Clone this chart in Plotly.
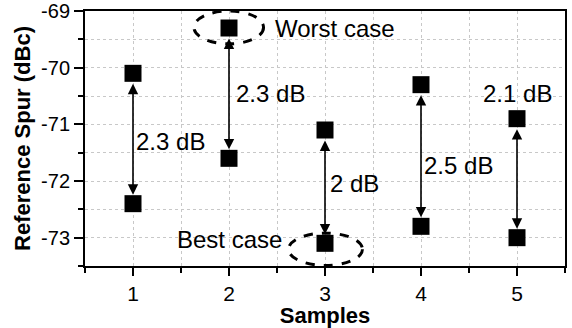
import plotly.graph_objects as go

# Reference spur measured on five samples: highest and lowest reading per sample
samples = [1, 2, 3, 4, 5]
spur_max = [-70.1, -69.3, -71.1, -70.3, -70.9]
spur_min = [-72.4, -71.6, -73.1, -72.8, -73.0]
spread_labels = ["2.3 dB", "2.3 dB", "2 dB", "2.5 dB", "2.1 dB"]
# label anchor positions (data coords) for each spread label
label_x = [1.39, 2.43, 3.31, 4.39, 5.01]
label_y = [-71.31, -70.45, -72.05, -71.73, -70.46]

y_ticks = [-73, -72, -71, -70, -69]
y_ticktext = ["-73", "-72", "-71", "-70", "-69"]

FONT = "Liberation Sans, Arial, sans-serif"
ANN_SIZE = 24

fig = go.Figure()

fig.add_trace(go.Scatter(
    x=samples + samples,
    y=spur_max + spur_min,
    mode="markers",
    marker=dict(symbol="square", size=17, color="black"),
    showlegend=False,
    hoverinfo="x+y",
))

annotations = []
for s, hi, lo, txt, lx, ly in zip(samples, spur_max, spur_min, spread_labels, label_x, label_y):
    # double-headed arrow spanning the spread
    annotations.append(dict(
        x=s, y=lo, ax=s, ay=hi, xref="x", yref="y", axref="x", ayref="y",
        text="", showarrow=True, arrowhead=2, startarrowhead=2,
        arrowside="end+start", arrowsize=1.3, startarrowsize=1.3,
        arrowwidth=1.6, arrowcolor="black", standoff=9, startstandoff=9,
    ))
    annotations.append(dict(
        x=lx, y=ly, xref="x", yref="y", text=txt, showarrow=False,
        font=dict(family=FONT, size=ANN_SIZE, color="black"),
    ))

annotations.append(dict(x=2.46, y=-69.3, xref="x", yref="y", text="Worst case",
                        showarrow=False, xanchor="left",
                        font=dict(family=FONT, size=ANN_SIZE, color="black")))
annotations.append(dict(x=2.0, y=-73.04, xref="x", yref="y", text="Best case",
                        showarrow=False,
                        font=dict(family=FONT, size=ANN_SIZE, color="black")))

shapes = [
    dict(type="circle", xref="x", yref="y", x0=1.635, x1=2.36, y0=-69.58, y1=-69.0,
         line=dict(color="black", width=3, dash="dash")),
    dict(type="circle", xref="x", yref="y", x0=2.62, x1=3.39, y0=-73.49, y1=-72.92,
         line=dict(color="black", width=3, dash="dash")),
]

grid = dict(showgrid=True, gridcolor="#c8c8c8", griddash="dot", gridwidth=1)

fig.update_layout(
    width=572, height=328,
    margin=dict(l=85, r=7, t=11, b=62),
    plot_bgcolor="white", paper_bgcolor="white",
    font=dict(family=FONT, color="black"),
    annotations=annotations,
    shapes=shapes,
    xaxis=dict(
        range=[0.5, 5.5], tickvals=samples, ticks="outside", ticklen=8, tickwidth=2,
        tickcolor="black", showline=True, linecolor="black", linewidth=2, mirror=True,
        zeroline=False, tickfont=dict(family=FONT, size=21), automargin=False,
        title=dict(text="<b>Samples</b>", font=dict(family=FONT, size=22), standoff=0),
        minor=dict(dtick=0.5, tick0=0.5, ticks="outside", ticklen=5, tickwidth=1.5,
                   tickcolor="black", **grid),
        **grid,
    ),
    yaxis=dict(
        range=[-73.5, -69], tickvals=y_ticks, ticktext=y_ticktext, ticks="outside",
        ticklen=9, tickwidth=2, tickcolor="black", showline=True, linecolor="black",
        linewidth=2, mirror=True, zeroline=False, tickfont=dict(family=FONT, size=20),
        ticklabeloverflow="allow", automargin=False,
        title=dict(text="<b>Reference Spur (dBc)</b>", font=dict(family=FONT, size=22),
                   standoff=4),
        minor=dict(dtick=0.5, tick0=-69.5, ticks="outside", ticklen=5, tickwidth=1.5,
                   tickcolor="black", **grid),
        **grid,
    ),
)

fig.write_html("out.html")
